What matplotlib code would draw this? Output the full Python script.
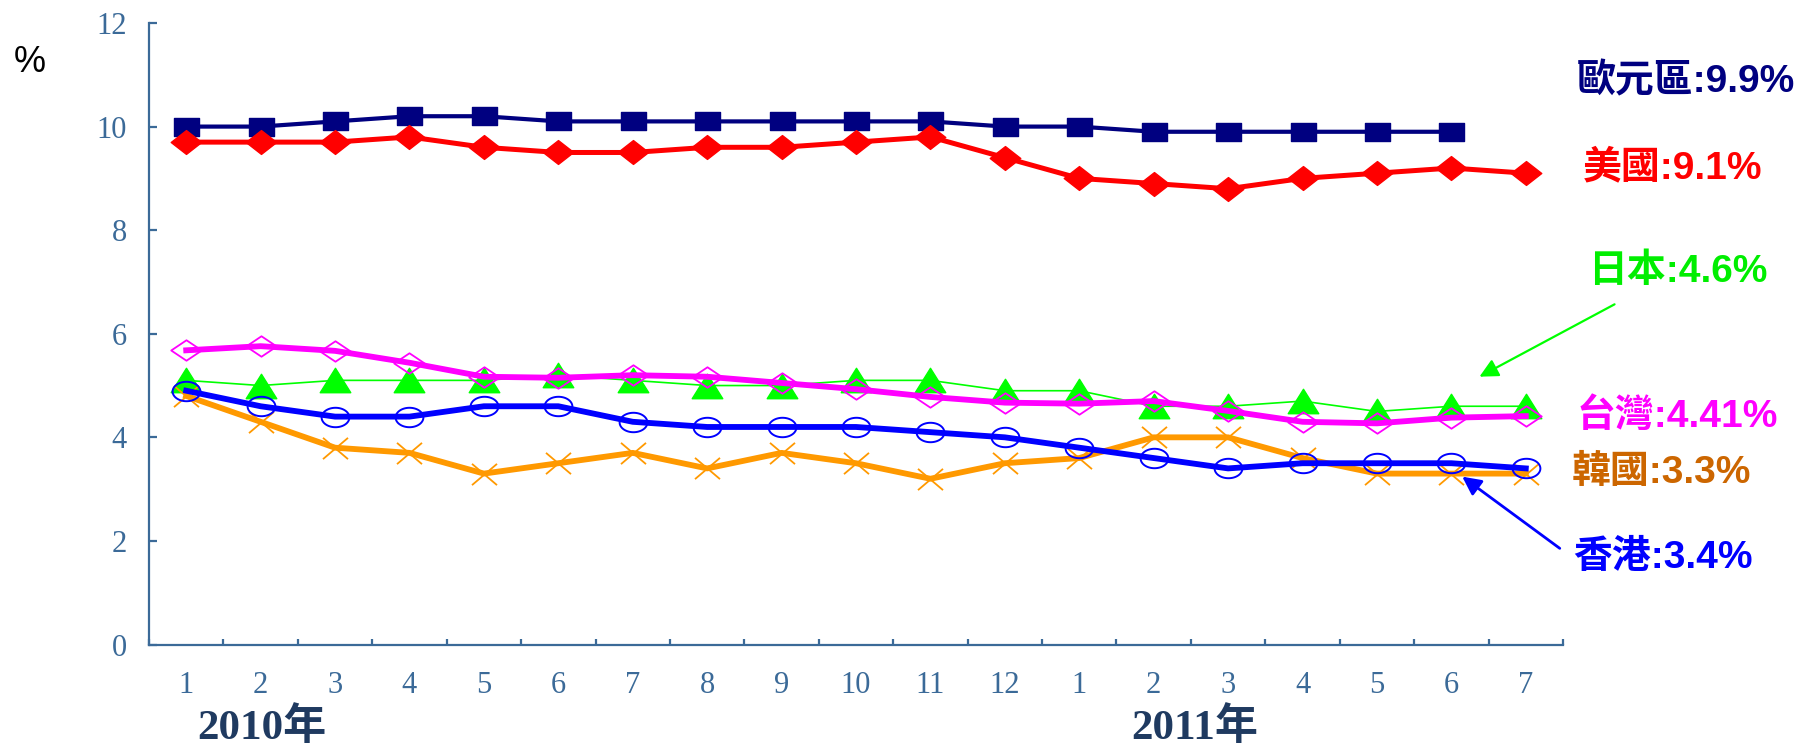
import numpy as np
import matplotlib
matplotlib.use("Agg")
import matplotlib.pyplot as plt
from matplotlib.path import Path

# ---------------- data ----------------
months = ["1", "2", "3", "4", "5", "6", "7", "8", "9", "10", "11", "12",
          "1", "2", "3", "4", "5", "6", "7"]
eurozone = [10.0, 10.0, 10.1, 10.2, 10.2, 10.1, 10.1, 10.1, 10.1, 10.1, 10.1, 10.0,
            10.0, 9.9, 9.9, 9.9, 9.9, 9.9, np.nan]
usa = [9.7, 9.7, 9.7, 9.8, 9.6, 9.5, 9.5, 9.6, 9.6, 9.7, 9.8, 9.4,
       9.0, 8.9, 8.8, 9.0, 9.1, 9.2, 9.1]
japan = [5.1, 5.0, 5.1, 5.1, 5.1, 5.2, 5.1, 5.0, 5.0, 5.1, 5.1, 4.9,
         4.9, 4.6, 4.6, 4.7, 4.5, 4.6, 4.6]
taiwan = [5.68, 5.76, 5.67, 5.44, 5.17, 5.15, 5.20, 5.17, 5.05, 4.93, 4.78, 4.67,
          4.65, 4.70, 4.51, 4.30, 4.27, 4.38, 4.41]
korea = [4.8, 4.3, 3.8, 3.7, 3.3, 3.5, 3.7, 3.4, 3.7, 3.5, 3.2, 3.5,
         3.6, 4.0, 4.0, 3.6, 3.3, 3.3, 3.3]
hongkong = [4.9, 4.6, 4.4, 4.4, 4.6, 4.6, 4.3, 4.2, 4.2, 4.2, 4.1, 4.0,
            3.8, 3.6, 3.4, 3.5, 3.5, 3.5, 3.4]
year_labels = ["2010年", "2011年"]
series_labels = ["歐元區:9.9%", "美國:9.1%", "日本:4.6%", "台灣:4.41%", "韓國:3.3%", "香港:3.4%"]

# ---------------- marker shapes ----------------
def poly(pts):
    pts = np.asarray(pts, float)
    return Path(np.vstack([pts, pts[:1]]), closed=True)

sq = poly([(-1, -0.75), (1, -0.75), (1, 0.75), (-1, 0.75)])
dia_red = poly([(-1, 0), (0, 0.78), (1, 0), (0, -0.78)])
dia_pink = poly([(-1, 0), (0, 0.67), (1, 0), (0, -0.67)])
tri = poly([(-1, -0.8), (1, -0.8), (0, 0.8)])
t = np.linspace(0, 2 * np.pi, 60)
ell = Path(np.c_[np.cos(t), 0.7 * np.sin(t)], closed=True)
xmark = Path([(-1, -0.85), (1, 0.85), (-1, 0.85), (1, -0.85)],
             [Path.MOVETO, Path.LINETO, Path.MOVETO, Path.LINETO])

# ---------------- figure ----------------
W, H = 1804, 747
fig = plt.figure(figsize=(W / 100, H / 100), dpi=100)
ax = fig.add_axes([149 / W, 1 - 644.5 / H, (1563 - 149) / W, (644.5 - 23) / H])

x = np.arange(1, len(months) + 1)
axc = "#3B6A98"

ax.plot(x, eurozone, color="#000080", lw=3.0, marker=sq, ms=18, mfc="#000080", mec="#000080", zorder=3)
ax.plot(x, usa, color="#FF0000", lw=3.6, marker=dia_red, ms=22, mfc="#FF0000", mec="#FF0000", zorder=3)
ax.plot(x, japan, color="#00FF00", lw=1.2, marker=tri, ms=22, mfc="#00FF00", mec="#00FF00", zorder=3)
ax.plot(x, taiwan, color="#FF00FF", lw=4.2, marker=dia_pink, ms=22, mfc="none", mec="#FF00FF", mew=1.3, zorder=4)
ax.plot(x, korea, color="#FF9900", lw=4.2, marker=xmark, ms=18, mfc="none", mec="#FF9900", mew=1.3, zorder=4)
ax.plot(x, hongkong, color="#0000FF", lw=4.2, marker=ell, ms=20, mfc="none", mec="#0000FF", mew=1.4, zorder=5)

ax.set_xlim(0.5, len(months) + 0.5)
ax.set_ylim(0, 12)
ax.set_yticks(np.arange(0, 13, 2))
ax.set_xticks(np.arange(0.5, len(months) + 1, 1))
ax.set_xticklabels([])
ax.set_xticks(x, minor=True)
ax.set_xticklabels(months, minor=True)

for s in ["top", "right"]:
    ax.spines[s].set_visible(False)
for s in ["left", "bottom"]:
    ax.spines[s].set_color(axc)
    ax.spines[s].set_linewidth(1.6)

ax.tick_params(axis="y", direction="in", length=6, width=1.6, color=axc, labelcolor=axc, pad=16,
               labelsize=22)
ax.tick_params(axis="x", which="major", direction="in", length=4.5, width=1.6, color=axc)
ax.tick_params(axis="x", which="minor", length=0, labelcolor=axc, pad=19, labelsize=22)
for lab in ax.get_yticklabels() + ax.get_xticklabels(minor=True):
    lab.set_family("Liberation Serif")

# "%" unit
fig.text(30 / W, 1 - 63 / H, "%", fontsize=26, color="black", ha="center", va="center",
         family=["Liberation Sans", "DejaVu Sans"])

# year labels
yfam = ["Liberation Serif", "Noto Sans CJK TC"]
fig.text(262 / W, 1 - 728 / H, year_labels[0], fontsize=31, fontweight="bold", color="#1F3A60",
         ha="center", va="center", family=yfam)
fig.text(1195 / W, 1 - 728 / H, year_labels[1], fontsize=31, fontweight="bold", color="#1F3A60",
         ha="center", va="center", family=yfam)

# series labels
lfam = ["Liberation Sans", "Noto Sans CJK TC"]
lab_specs = [
    (series_labels[0], 1577, 82, "#000080"),
    (series_labels[1], 1583, 168, "#FF0000"),
    (series_labels[2], 1588, 272, "#00EE00"),
    (series_labels[3], 1577, 417, "#FF00FF"),
    (series_labels[4], 1572, 473, "#CC6600"),
    (series_labels[5], 1573, 558, "#0000FF"),
]
for txt, px, py, col in lab_specs:
    fig.text(px / W, 1 - py / H, txt, fontsize=28, fontweight="bold", color=col,
             ha="left", va="center", family=lfam)

# arrows
fig.add_artist(matplotlib.patches.FancyArrowPatch(
    (1617 / W, 1 - 303 / H), (1477 / W, 1 - 378 / H), transform=fig.transFigure,
    arrowstyle="-|>", mutation_scale=28, lw=1.6, color="#00FF00"))
fig.add_artist(matplotlib.patches.FancyArrowPatch(
    (1562 / W, 1 - 550 / H), (1460 / W, 1 - 475 / H), transform=fig.transFigure,
    arrowstyle="-|>", mutation_scale=28, lw=2.0, color="#0000FF"))

fig.savefig("out.png", dpi=100)
